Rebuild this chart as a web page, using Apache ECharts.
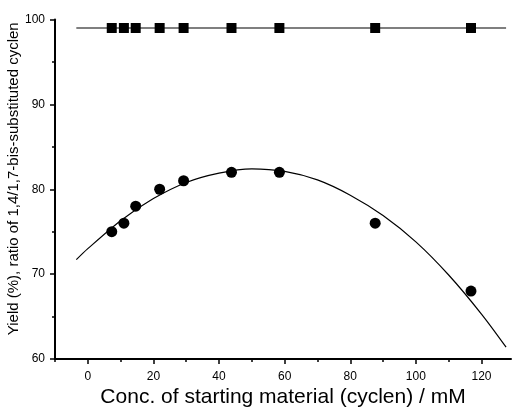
<!DOCTYPE html>
<html>
<head>
<meta charset="utf-8">
<script src="https://cdn.jsdelivr.net/npm/echarts@6/dist/echarts.min.js"></script>
<style>
  html, body { margin: 0; padding: 0; background: #fff; }
  #chart { width: 512px; height: 407px; }
</style>
</head>
<body>
<div id="chart"></div>
<script>
  // concentrations (mM)
  var conc = [7.3, 11, 14.6, 21.9, 29.2, 43.8, 58.4, 87.6, 116.8]
  // ratio of 1,4/1,7 (squares)
  var ratio = [99, 99, 99, 99, 99, 99, 99, 99, 99]
  // yield (circles)
  var yieldVals = [75, 76, 78, 80, 81, 82, 82, 76, 68]
  // fitted curve
  var fitX = [-3.5, 0, 10, 20, 30, 40, 50, 60, 70, 80, 90, 100, 110, 120, 127.5]
  var fitY = [71.7, 73.0, 76.3, 78.9, 80.8, 81.9, 82.4, 82.1, 81.1, 79.3, 76.9, 73.8, 69.9, 65.3, 61.4]
  // flat line through the squares
  var flatX = [-3.5, 127.5]
  var flatY = [99, 99]
  var xMajor = [0, 20, 40, 60, 80, 100, 120]
  var xMinor = [-10, 10, 30, 50, 70, 90, 110]

  var chart = echarts.init(document.getElementById('chart'))

  function pairs (xs, ys) {
    var out = []
    for (var i = 0; i < xs.length; i++) {
      out.push([xs[i], ys[i]])
    }
    return out
  }

  var font = 'Liberation Sans, Arial, sans-serif'

  var option = {
    animation: false,
    backgroundColor: '#fff',
    grid: { left: 55, right: 1, top: 19.5, bottom: 48, outerBoundsMode: 'none' },
    xAxis: [
      {
        type: 'value',
        min: -10,
        max: 129,
        name: 'Conc. of starting material (cyclen) / mM',
        nameLocation: 'middle',
        nameGap: 28,
        nameMoveOverlap: false,
        nameTextStyle: { fontFamily: font, fontSize: 21, color: '#000' },
        axisLine: { show: true, onZero: false, lineStyle: { color: '#000', width: 2 } },
        axisTick: { show: true, length: 5, customValues: xMajor, lineStyle: { color: '#000', width: 1.5 } },
        axisLabel: { customValues: xMajor, margin: 12, fontFamily: font, fontSize: 12, color: '#000' },
        splitLine: { show: false }
      },
      {
        type: 'value',
        min: -10,
        max: 129,
        position: 'bottom',
        axisLine: { show: false },
        axisTick: { show: true, length: 3, customValues: xMinor, lineStyle: { color: '#000', width: 1.5 } },
        axisLabel: { show: false },
        splitLine: { show: false }
      }
    ],
    yAxis: {
      type: 'value',
      min: 60,
      max: 100,
      interval: 10,
      name: 'Yield (%), ratio of 1,4/1,7-bis-substituted cyclen',
      nameLocation: 'middle',
      nameGap: 34,
      nameMoveOverlap: false,
      nameTextStyle: { fontFamily: font, fontSize: 15, color: '#000', padding: [0, 0, 0, 21] },
      axisLine: { show: true, onZero: false, lineStyle: { color: '#000', width: 2 } },
      axisTick: { show: true, length: 5, lineStyle: { color: '#000', width: 1.5 } },
      minorTick: { show: true, splitNumber: 2, length: 3, lineStyle: { color: '#000', width: 1.5 } },
      axisLabel: { margin: 10, fontFamily: font, fontSize: 12, color: '#000' },
      splitLine: { show: false }
    },
    series: [
      {
        type: 'line',
        data: pairs(flatX, flatY),
        symbol: 'none',
        lineStyle: { color: '#000', width: 1.2 }
      },
      {
        type: 'line',
        data: pairs(fitX, fitY),
        symbol: 'none',
        smooth: 0.3,
        lineStyle: { color: '#000', width: 1.2 }
      },
      {
        type: 'scatter',
        data: pairs(conc, ratio),
        symbol: 'rect',
        symbolSize: 10,
        itemStyle: { color: '#000', opacity: 1 }
      },
      {
        type: 'scatter',
        data: pairs(conc, yieldVals),
        symbol: 'circle',
        symbolSize: 11,
        itemStyle: { color: '#000', opacity: 1 }
      }
    ]
  }

  chart.setOption(option)
</script>
</body>
</html>
